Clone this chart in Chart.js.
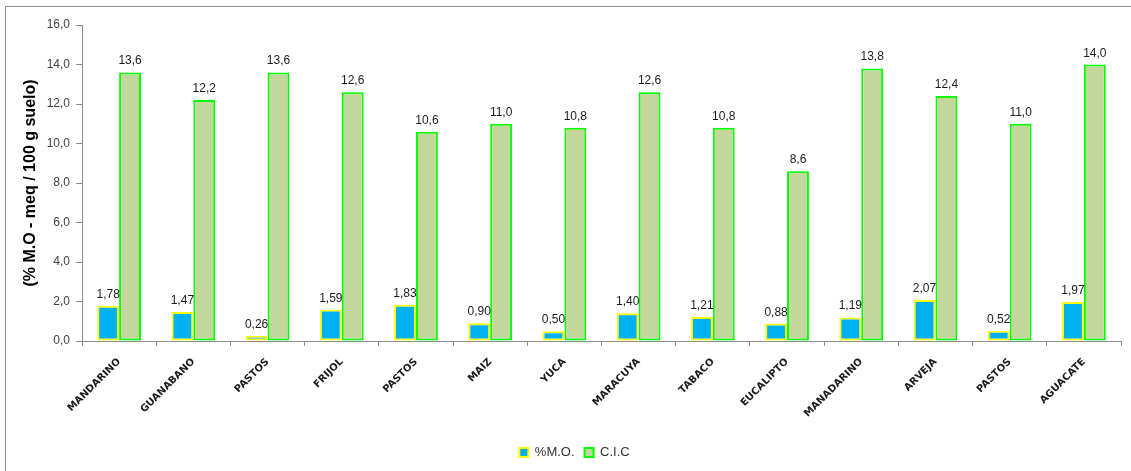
<!DOCTYPE html>
<html>
<head>
<meta charset="utf-8">
<script src="https://cdn.jsdelivr.net/npm/chart.js@4.4.0/dist/chart.umd.min.js"></script>
<style>
  html, body { margin: 0; padding: 0; background: #fff; }
  #frame { position: absolute; left: 5px; top: 6px; width: 1140px; height: 480px;
           border-left: 1px solid #8c8c8c; border-top: 1px solid #8c8c8c; }
  #wrap { position: absolute; left: 0; top: 0; width: 1131px; height: 471px; }
</style>
</head>
<body>
<div id="frame"></div>
<div id="wrap"><canvas id="chart" width="1131" height="471"></canvas></div>
<script>
// Suelos: materia organica y capacidad de intercambio cationico por cultivo

const cultivos = ['MANDARINO', 'GUANABANO', 'PASTOS', 'FRIJOL', 'PASTOS', 'MAIZ', 'YUCA',
  'MARACUYA', 'TABACO', 'EUCALIPTO', 'MANADARINO', 'ARVEJA', 'PASTOS', 'AGUACATE'];
const materiaOrganica = [1.78, 1.47, 0.26, 1.59, 1.83, 0.90, 0.50, 1.40, 1.21, 0.88, 1.19, 2.07, 0.52, 1.97];
const cic = [13.6, 12.2, 13.6, 12.6, 10.6, 11.0, 10.8, 12.6, 10.8, 8.6, 13.8, 12.4, 11.0, 14.0];
const yTicks = [0, 2, 4, 6, 8, 10, 12, 14, 16];

function comma(v, d) {
  return v.toFixed(d).replace('.', ',');
}

// value labels above every bar
const valueLabels = {
  id: 'valueLabels',
  afterDatasetsDraw(chart) {
    const ctx = chart.ctx;
    ctx.save();
    ctx.font = '12px "Liberation Sans", Arial, sans-serif';
    ctx.fillStyle = '#1a1a1a';
    ctx.textAlign = 'center';
    ctx.textBaseline = 'alphabetic';
    chart.data.datasets.forEach((ds, i) => {
      const meta = chart.getDatasetMeta(i);
      meta.data.forEach((bar, j) => {
        ctx.fillText(comma(ds.data[j], ds.decimals), bar.x, bar.y - 8);
      });
    });
    ctx.restore();
  }
};

new Chart(document.getElementById('chart'), {
  type: 'bar',
  data: {
    labels: cultivos,
    datasets: [
      {
        label: '%M.O.',
        data: materiaOrganica,
        decimals: 2,
        backgroundColor: '#00b0f0',
        borderColor: '#ffff00',
        borderWidth: 2,
        borderSkipped: false
      },
      {
        label: 'C.I.C',
        data: cic,
        decimals: 1,
        backgroundColor: '#c4d79b',
        borderColor: '#00ff00',
        borderWidth: 2,
        borderSkipped: false
      }
    ]
  },
  options: {
    responsive: false,
    animation: false,
    layout: { padding: { left: 28, right: 10, top: 25, bottom: 2 } },
    datasets: {
      bar: { categoryPercentage: 0.59, barPercentage: 1.0 }
    },
    scales: {
      x: {
        grid: { display: true, drawOnChartArea: false, offset: true, color: '#8c8c8c', tickLength: 5 },
        border: { color: '#8c8c8c' },
        ticks: {
          autoSkip: false,
          maxRotation: 45,
          minRotation: 45,
          padding: 10,
          color: '#1a1a1a',
          font: { family: '"DejaVu Sans", sans-serif', size: 10, weight: 'bold' }
        },
        afterFit(scale) { scale.height = 95; }
      },
      y: {
        min: 0,
        max: 16,
        afterBuildTicks(scale) { scale.ticks = yTicks.map(v => ({ value: v })); },
        grid: { display: true, drawOnChartArea: false, color: '#8c8c8c', tickLength: 6 },
        border: { color: '#8c8c8c' },
        ticks: {
          color: '#404040',
          padding: 6,
          font: { family: '"Liberation Sans", Arial, sans-serif', size: 12 },
          callback: v => comma(v, 1)
        },
        title: {
          display: true,
          text: '(% M.O - meq / 100 g suelo)',
          color: '#000',
          padding: { top: -7, bottom: 0 },
          font: { family: '"Liberation Sans", Arial, sans-serif', size: 16, weight: 'bold' }
        },
        afterFit(scale) { scale.width = 54; }
      }
    },
    plugins: {
      legend: {
        position: 'bottom',
        labels: {
          boxWidth: 9,
          boxHeight: 9,
          padding: 10,
          color: '#333',
          font: { family: '"Liberation Sans", Arial, sans-serif', size: 13 }
        }
      },
      tooltip: { enabled: false }
    }
  },
  plugins: [valueLabels]
});
</script>
</body>
</html>
